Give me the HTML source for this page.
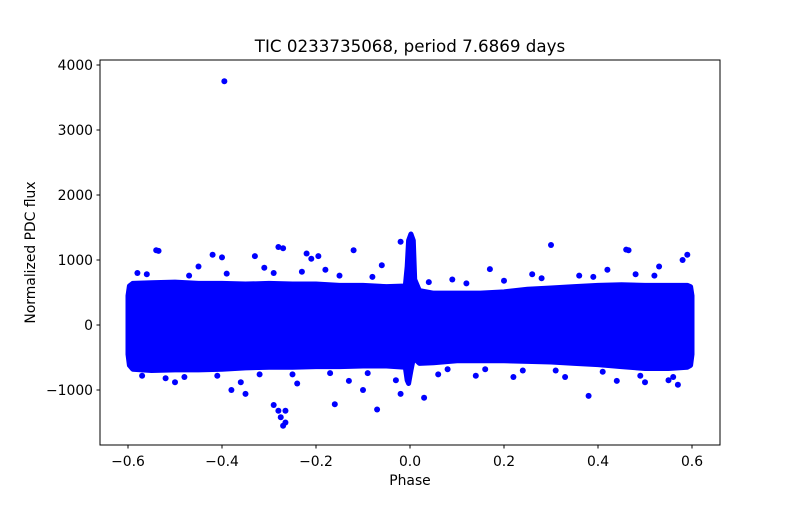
<!DOCTYPE html>
<html><head><meta charset="utf-8"><style>
body{margin:0;background:#fff;}
svg text{font-family:"DejaVu Sans","Liberation Sans",sans-serif;fill:#000;}
</style></head><body>
<svg id="chart" width="800" height="500" xmlns="http://www.w3.org/2000/svg">
<rect width="800" height="500" fill="#fff"/>
<text x="410" y="52" font-size="16.7" text-anchor="middle">TIC 0233735068, period 7.6869 days</text>
<g id="marks"></g>
<rect x="100" y="60" width="620" height="385" fill="none" stroke="#000" stroke-width="1"/>
<g id="axes"></g>
<text x="410" y="485" font-size="13.9" text-anchor="middle">Phase</text>
<text transform="translate(35,252.5) rotate(-90)" font-size="13.9" text-anchor="middle">Normalized PDC flux</text>
</svg>
<script>
const bandPhase=[-0.6,-0.597,-0.59,-0.55,-0.5,-0.45,-0.4,-0.35,-0.3,-0.25,-0.2,-0.15,-0.1,-0.05,-0.01,-0.006,-0.003,0.002,0.007,0.01,0.02,0.05,0.1,0.15,0.2,0.25,0.3,0.35,0.4,0.45,0.5,0.55,0.59,0.597,0.6];
const bandUpper=[450,600,640,650,660,640,640,630,640,630,630,610,610,590,600,900,1300,1400,1300,700,530,490,490,490,510,550,570,590,610,620,610,610,610,590,450];
const bandLower=[-450,-620,-680,-700,-690,-690,-680,-660,-650,-650,-640,-640,-630,-630,-650,-850,-900,-700,-520,-520,-590,-580,-550,-550,-550,-560,-570,-590,-610,-640,-670,-670,-650,-620,-450];
const outPhase=[-0.395,-0.54,-0.535,-0.42,-0.40,-0.33,-0.28,-0.27,-0.22,-0.21,-0.195,-0.12,-0.06,-0.02,0.30,0.46,0.465,0.59,0.58,-0.27,-0.265,-0.275,-0.28,-0.265,-0.29,-0.35,-0.16,-0.10,-0.07,0.03,0.38,-0.02,-0.50,0.57,0.50,-0.38,-0.58,-0.45,-0.31,-0.18,0.09,0.17,0.26,0.36,0.42,0.53,-0.52,-0.36,-0.24,-0.13,-0.03,0.06,0.14,0.22,0.33,0.44,0.55,-0.56,-0.47,-0.39,-0.29,-0.23,-0.15,-0.08,0.04,0.12,0.2,0.28,0.39,0.48,0.52,-0.57,-0.48,-0.41,-0.32,-0.25,-0.17,-0.09,0.08,0.16,0.24,0.31,0.41,0.49,0.56];
const outFlux=[3750,1150,1140,1080,1040,1060,1200,1180,1100,1020,1060,1150,920,1280,1230,1160,1150,1080,1000,-1550,-1500,-1420,-1320,-1320,-1230,-1060,-1220,-1000,-1300,-1120,-1090,-1060,-880,-920,-880,-1000,800,900,880,850,700,860,780,760,850,900,-820,-880,-900,-860,-850,-760,-780,-800,-800,-860,-850,780,760,790,800,820,760,740,660,640,680,720,740,780,760,-780,-800,-780,-760,-760,-740,-740,-680,-680,-700,-700,-720,-780,-800];
const xTicks=[-0.6,-0.4,-0.2,0,0.2,0.4,0.6];
const yTicks=[-1000,0,1000,2000,3000,4000];
const xs=p=>410+p*470;
const ys=f=>325-f*0.065;
const NS="http://www.w3.org/2000/svg";
const marks=document.getElementById('marks');
let pts=[];
for(let i=0;i<bandPhase.length;i++)pts.push(xs(bandPhase[i])+','+ys(bandUpper[i]));
for(let i=bandPhase.length-1;i>=0;i--)pts.push(xs(bandPhase[i])+','+ys(bandLower[i]));
const poly=document.createElementNS(NS,'polygon');
poly.setAttribute('points',pts.join(' '));
poly.setAttribute('fill','#0000ff');poly.setAttribute('stroke','#0000ff');poly.setAttribute('stroke-width','5');poly.setAttribute('stroke-linejoin','round');


marks.appendChild(poly);
for(let i=0;i<outPhase.length;i++){
 const c=document.createElementNS(NS,'circle');
 c.setAttribute('cx',xs(outPhase[i]));c.setAttribute('cy',ys(outFlux[i]));c.setAttribute('r',3);c.setAttribute('fill','#0000ff');
 
 
 marks.appendChild(c);
}
const axes=document.getElementById('axes');
const fmt=v=>(v<0?'\u2212':'')+Math.abs(v);
xTicks.forEach(t=>{
 const l=document.createElementNS(NS,'line');
 l.setAttribute('x1',xs(t));l.setAttribute('x2',xs(t));l.setAttribute('y1',445);l.setAttribute('y2',448.5);l.setAttribute('stroke','#000');
 
 
 axes.appendChild(l);
 const tx=document.createElementNS(NS,'text');
 tx.setAttribute('x',xs(t));tx.setAttribute('y',466);tx.setAttribute('font-size','13.9');tx.setAttribute('text-anchor','middle');
 tx.textContent=(t<0?'\u2212':'')+Math.abs(t).toFixed(1);
 
 
 axes.appendChild(tx);
});
yTicks.forEach(t=>{
 const l=document.createElementNS(NS,'line');
 l.setAttribute('x1',96.5);l.setAttribute('x2',100);l.setAttribute('y1',ys(t));l.setAttribute('y2',ys(t));l.setAttribute('stroke','#000');
 
 
 axes.appendChild(l);
 const tx=document.createElementNS(NS,'text');
 tx.setAttribute('x',93);tx.setAttribute('y',ys(t)+5);tx.setAttribute('font-size','13.9');tx.setAttribute('text-anchor','end');
 tx.textContent=fmt(t);
 
 
 axes.appendChild(tx);
});
</script>
</body></html>
